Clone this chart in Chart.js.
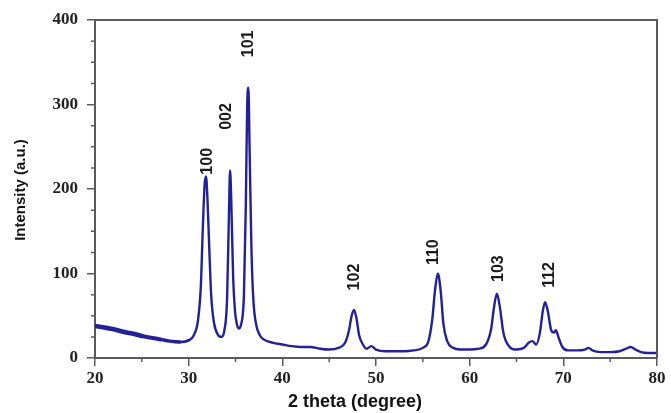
<!DOCTYPE html>
<html>
<head>
<meta charset="utf-8">
<script src="https://cdn.jsdelivr.net/npm/chart.js@4.4.0/dist/chart.umd.min.js"></script>
<style>
  html, body { margin: 0; padding: 0; background: #fff; }
  #wrap { width: 671px; height: 413px; }
</style>
</head>
<body>
<div id="wrap"><canvas id="xrd" width="671" height="413"></canvas></div>
<script>
// XRD pattern
const twoTheta = [20, 21, 22, 23, 24, 25, 26, 27, 28, 29, 30, 30.5, 31, 31.3, 31.5, 31.7, 31.85, 32.0, 32.2, 32.4, 32.7, 33.1, 33.5, 33.8,
  34.1, 34.3, 34.42, 34.55, 34.75, 34.95, 35.15, 35.35, 35.6, 35.9, 36.1, 36.25, 36.38, 36.5, 36.7, 36.9, 37.2, 37.6, 38, 39,
  40, 41, 42, 43, 44, 45, 46, 46.7, 47.1, 47.4, 47.65, 47.9, 48.2, 48.6, 49, 49.5, 50, 51, 52, 53, 54, 55, 55.6, 56.0, 56.3,
  56.6, 56.9, 57.2, 57.6, 58.2, 59, 60, 61, 61.8, 62.3, 62.6, 62.9, 63.2, 63.6, 64.2, 65, 65.8, 66.3, 66.7, 67.1, 67.5, 67.8,
  68.05, 68.35, 68.7, 69.0, 69.2, 69.5, 69.9, 70.5, 71.5, 72.3, 72.7, 73.1, 74, 75, 76, 76.7, 77.2, 77.7, 78.3, 79, 80];
const intensity = [38, 36, 34, 31, 29, 26, 24, 22, 20, 19, 21, 26, 45, 85, 150, 205, 215, 190, 130, 75, 42, 28, 25, 32,
  70, 170, 222, 185, 95, 55, 40, 35, 40, 75, 180, 300, 320, 250, 130, 70, 40, 27, 22, 18,
  16, 14, 13, 13, 11, 10, 12, 18, 32, 50, 57, 48, 27, 16, 11, 14, 10, 8, 8, 8, 9, 12, 20, 45, 80,
  100, 80, 40, 20, 12, 10, 10, 11, 17, 35, 60, 76, 62, 30, 14, 10, 12, 18, 20, 16, 30, 55,
  66, 55, 33, 30, 33, 24, 13, 9, 9, 10, 12, 9, 7, 7, 8, 11, 13, 10, 7, 6, 6];

// peak labels and where they sit (label bottom)
const peakLabels = ['100', '002', '101', '102', '110', '103', '112'];
const labelX = [32.05, 34.07, 36.4, 47.7, 56.1, 63.1, 68.5];
const labelY = [217, 270, 356, 80, 110, 90, 83];

const xMinorTicks = [25, 35, 45, 55, 65, 75];
const yMinorTicks = [25, 50, 75, 125, 150, 175, 225, 250, 275, 325, 350, 375];

const axisColor = '#5a5a5a';
const points = twoTheta.map((x, i) => ({ x: x, y: intensity[i] }));

// the low-angle background is a noisy band that thins out toward 30
function bandWidth(c) {
  const x = c.p0.parsed.x;
  if (x < 25) return 4.6;
  if (x < 27) return 4;
  if (x < 29) return 3.4;
  if (x < 30) return 2.9;
  return 2.4;
}

const decor = {
  id: 'decor',
  afterDraw(chart) {
    const ctx = chart.ctx;
    const a = chart.chartArea;
    const xs = chart.scales.x, ys = chart.scales.y;
    ctx.save();
    // frame top & right
    ctx.strokeStyle = axisColor;
    ctx.lineWidth = 2;
    ctx.beginPath();
    ctx.moveTo(a.left, a.top);
    ctx.lineTo(a.right, a.top);
    ctx.lineTo(a.right, a.bottom);
    ctx.stroke();
    // minor ticks
    ctx.lineWidth = 1.5;
    ctx.beginPath();
    xMinorTicks.forEach(v => {
      const px = xs.getPixelForValue(v);
      ctx.moveTo(px, a.bottom);
      ctx.lineTo(px, a.bottom + 4);
    });
    yMinorTicks.forEach(v => {
      const py = ys.getPixelForValue(v);
      ctx.moveTo(a.left - 4, py);
      ctx.lineTo(a.left, py);
    });
    ctx.stroke();
    // peak labels
    ctx.fillStyle = '#1a1a1a';
    ctx.font = 'bold 16px "Liberation Sans", Arial, sans-serif';
    ctx.textAlign = 'left';
    ctx.textBaseline = 'middle';
    peakLabels.forEach((t, i) => {
      const px = xs.getPixelForValue(labelX[i]);
      const py = ys.getPixelForValue(labelY[i]);
      ctx.save();
      ctx.translate(px, py);
      ctx.rotate(-Math.PI / 2);
      ctx.fillText(t, 0, 0);
      ctx.restore();
    });
    // axis titles
    ctx.fillStyle = '#111';
    ctx.textAlign = 'center';
    ctx.font = 'bold 18px "Liberation Sans", Arial, sans-serif';
    ctx.fillText('2 theta (degree)', 355, 402);
    ctx.save();
    ctx.translate(21, 190);
    ctx.rotate(-Math.PI / 2);
    ctx.font = 'bold 15px "Liberation Sans", Arial, sans-serif';
    ctx.fillText('Intensity (a.u.)', 0, 0);
    ctx.restore();
    ctx.restore();
  }
};

new Chart(document.getElementById('xrd'), {
  type: 'line',
  data: {
    datasets: [{
      data: points,
      borderColor: '#23209a',
      borderWidth: 2.4,
      borderCapStyle: 'round',
      borderJoinStyle: 'round',
      pointRadius: 0,
      fill: false,
      cubicInterpolationMode: 'monotone',
      segment: { borderWidth: bandWidth }
    }]
  },
  options: {
    responsive: false,
    animation: false,
    layout: { padding: { top: 20, right: 14, left: 0, bottom: 0 } },
    plugins: { legend: { display: false }, tooltip: { enabled: false } },
    scales: {
      x: {
        type: 'linear',
        min: 20,
        max: 80,
        afterFit(scale) { scale.height = 55; },
        border: { color: axisColor, width: 2 },
        grid: { drawOnChartArea: false, tickLength: 8, color: axisColor, lineWidth: 1.5 },
        ticks: {
          stepSize: 10,
          padding: 2,
          color: '#222',
          font: { family: '"Liberation Serif", "Times New Roman", serif', size: 17, weight: 'bold' }
        }
      },
      y: {
        type: 'linear',
        min: 0,
        max: 400,
        afterFit(scale) { scale.width = 95; },
        border: { color: axisColor, width: 2 },
        grid: { drawOnChartArea: false, tickLength: 8, color: axisColor, lineWidth: 1.5 },
        ticks: {
          stepSize: 100,
          padding: 9,
          color: '#222',
          font: { family: '"Liberation Serif", "Times New Roman", serif', size: 17, weight: 'bold' }
        }
      }
    }
  },
  plugins: [decor]
});
</script>
</body>
</html>
